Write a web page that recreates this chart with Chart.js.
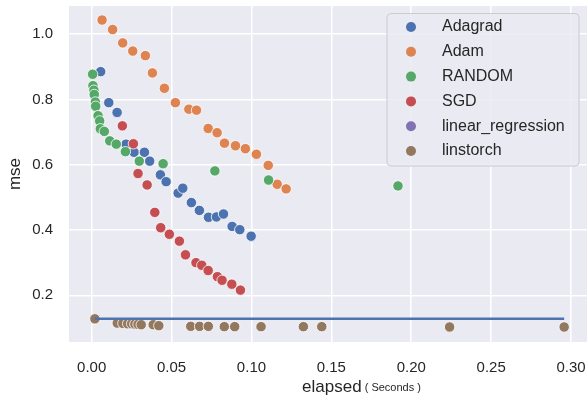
<!DOCTYPE html>
<html lang="en">
<head>
    <meta charset="UTF-8">
    <title>mse vs elapsed</title>
    <script src="https://cdn.jsdelivr.net/npm/chart.js"></script>
    <style>
        html, body { margin: 0; padding: 0; background: #fff; }
        #wrap { width: 588px; height: 400px; }
    </style>
</head>
<body>
    <div id="wrap"><canvas id="mseChart" width="588" height="400"></canvas></div>
    <script>
        // series labels, in legend order
        var seriesNames = ['Adagrad', 'Adam', 'RANDOM', 'SGD', 'linear_regression', 'linstorch'];

        // Adagrad
        var adagradX = [0.0056, 0.0107, 0.0159, 0.0215, 0.0265, 0.033, 0.0363, 0.043, 0.0466, 0.0541, 0.057, 0.0624, 0.0674, 0.0731, 0.0781, 0.0825, 0.0879, 0.0927, 0.0998];
        var adagradY = [0.885, 0.790, 0.760, 0.663, 0.638, 0.638, 0.611, 0.569, 0.548, 0.513, 0.528, 0.484, 0.460, 0.439, 0.440, 0.449, 0.411, 0.401, 0.381];

        // Adam
        var adamX = [0.0065, 0.0131, 0.0194, 0.0257, 0.0336, 0.038, 0.0455, 0.0524, 0.0608, 0.0656, 0.0729, 0.0785, 0.0831, 0.090, 0.0962, 0.1031, 0.1105, 0.1161, 0.1217];
        var adamY = [1.043, 1.014, 0.973, 0.948, 0.934, 0.881, 0.834, 0.790, 0.770, 0.767, 0.711, 0.698, 0.666, 0.658, 0.649, 0.632, 0.598, 0.540, 0.526];

        // RANDOM
        var randomX = [0.0006, 0.0008, 0.0014, 0.0016, 0.0023, 0.0025, 0.004, 0.005, 0.0054, 0.0079, 0.0113, 0.0154, 0.0211, 0.0298, 0.0447, 0.0771, 0.1107, 0.1917];
        var randomY = [0.877, 0.842, 0.828, 0.815, 0.792, 0.779, 0.750, 0.734, 0.710, 0.702, 0.673, 0.663, 0.640, 0.611, 0.603, 0.581, 0.553, 0.535];

        // SGD
        var sgdX = [0.0192, 0.0261, 0.029, 0.0347, 0.0395, 0.0432, 0.0486, 0.0549, 0.0587, 0.0653, 0.0689, 0.0729, 0.0787, 0.0816, 0.0877, 0.0931];
        var sgdY = [0.719, 0.664, 0.573, 0.538, 0.454, 0.407, 0.387, 0.366, 0.324, 0.300, 0.292, 0.276, 0.257, 0.246, 0.234, 0.216];

        // linear_regression (single run, hidden under linstorch)
        var linregX = [0.002];
        var linregY = [0.128];

        // linstorch
        var linstorchX = [0.002, 0.016, 0.0195, 0.0225, 0.025, 0.027, 0.029, 0.031, 0.0385, 0.042, 0.062, 0.0675, 0.073, 0.083, 0.0895, 0.106, 0.1325, 0.144, 0.224, 0.2957];
        var linstorchY = [0.128, 0.115, 0.114, 0.113, 0.113, 0.112, 0.111, 0.110, 0.110, 0.107, 0.105, 0.105, 0.105, 0.104, 0.104, 0.104, 0.104, 0.104, 0.103, 0.103];

        // reference line (linear_regression mse)
        var refLineX = [0.002, 0.2957];
        var refLineY = [0.128, 0.128];

        // ticks
        var xTicks = [0, 0.05, 0.10, 0.15, 0.20, 0.25, 0.30];
        var xTickLabels = ['0.00', '0.05', '0.10', '0.15', '0.20', '0.25', '0.30'];
        var yTicks = [0.2, 0.4, 0.6, 0.8, 1.0];
        var yTickLabels = ['0.2', '0.4', '0.6', '0.8', '1.0'];

        var colors = ['#4C72B0', '#DD8452', '#55A868', '#C44E52', '#8172B3', '#937860'];
        var FONT = "'Liberation Sans', Arial, sans-serif";

        function pts(xs, ys) {
            return xs.map(function (x, i) { return { x: x, y: ys[i] }; });
        }

        var seriesX = [adagradX, adamX, randomX, sgdX, linregX, linstorchX];
        var seriesY = [adagradY, adamY, randomY, sgdY, linregY, linstorchY];

        var datasets = seriesNames.map(function (name, i) {
            return {
                type: 'scatter',
                label: name,
                data: pts(seriesX[i], seriesY[i]),
                backgroundColor: colors[i],
                borderColor: '#ffffff',
                borderWidth: 0.8,
                pointRadius: 5.2,
                pointHoverRadius: 5.2,
                order: 10 - i
            };
        });
        datasets.push({
            type: 'line',
            label: 'ref',
            data: pts(refLineX, refLineY),
            borderColor: '#4C72B0',
            borderWidth: 2.5,
            pointRadius: 0,
            fill: false,
            order: 0
        });

        // grey plot background
        var plotBg = {
            id: 'plotBg',
            beforeDraw: function (chart) {
                var a = chart.chartArea, c = chart.ctx;
                c.save();
                c.fillStyle = '#EAEAF2';
                c.fillRect(a.left, a.top, a.right - a.left, a.bottom - a.top);
                c.restore();
            }
        };

        // legend box inside the plot, upper right
        var innerLegend = {
            id: 'innerLegend',
            afterDraw: function (chart) {
                var c = chart.ctx;
                var x = 387, y = 13.5, w = 192, h = 152.5;
                c.save();
                c.fillStyle = 'rgba(234,234,242,0.85)';
                c.strokeStyle = '#cccccc';
                c.lineWidth = 1;
                c.beginPath();
                c.roundRect(x, y, w, h, 4);
                c.fill();
                c.stroke();
                c.font = '16px ' + FONT;
                c.textBaseline = 'middle';
                seriesNames.forEach(function (name, i) {
                    var cy = 27 + i * 24.8;
                    c.beginPath();
                    c.arc(411, cy, 5, 0, Math.PI * 2);
                    c.fillStyle = colors[i];
                    c.fill();
                    c.fillStyle = '#262626';
                    c.fillText(name, 442, cy);
                });
                c.restore();
            }
        };

        // x title with two font sizes
        var xTitle = {
            id: 'xTitle',
            afterDraw: function (chart) {
                var c = chart.ctx;
                c.save();
                c.fillStyle = '#262626';
                c.textBaseline = 'alphabetic';
                c.font = '17px ' + FONT;
                var t1 = 'elapsed';
                var w1 = c.measureText(t1).width;
                c.font = '11px ' + FONT;
                var t2 = ' ( Seconds )';
                var w2 = c.measureText(t2).width;
                var sx = 361.5 - (w1 + w2) / 2;
                c.font = '17px ' + FONT;
                c.fillText(t1, sx, 392);
                c.font = '11px ' + FONT;
                c.fillText(t2, sx + w1, 391);
                c.restore();
            }
        };

        var ctx = document.getElementById('mseChart').getContext('2d');
        var mseChart = new Chart(ctx, {
            data: { datasets: datasets },
            options: {
                responsive: false,
                animation: false,
                devicePixelRatio: 1,
                layout: { autoPadding: false, padding: { top: 6, right: 1, left: 0, bottom: 0 } },
                plugins: {
                    legend: { display: false },
                    tooltip: { enabled: false }
                },
                scales: {
                    x: {
                        type: 'linear',
                        min: -0.0142,
                        max: 0.310,
                        afterBuildTicks: function (s) { s.ticks = xTicks.map(function (v) { return { value: v }; }); },
                        afterFit: function (s) {
                            s.height = 58;
                            s.paddingLeft = 0;
                            s.paddingRight = 0;
                        },
                        ticks: {
                            callback: function (v) { return xTickLabels[xTicks.indexOf(v)]; },
                            font: { family: FONT, size: 15 },
                            color: '#262626',
                            padding: 17,
                            maxRotation: 0
                        },
                        grid: { color: '#ffffff', lineWidth: 1.5, drawTicks: false },
                        border: { display: false }
                    },
                    y: {
                        type: 'linear',
                        min: 0.057,
                        max: 1.086,
                        afterBuildTicks: function (s) { s.ticks = yTicks.map(function (v) { return { value: v }; }); },
                        afterFit: function (s) {
                            s.width = 69;
                            s.paddingTop = 0;
                            s.paddingBottom = 0;
                        },
                        ticks: {
                            callback: function (v) { return yTickLabels[yTicks.indexOf(v)]; },
                            font: { family: FONT, size: 15 },
                            color: '#262626',
                            padding: 16
                        },
                        title: {
                            display: true,
                            text: 'mse',
                            font: { family: FONT, size: 17 },
                            color: '#262626',
                            padding: { top: 5, bottom: 0 }
                        },
                        grid: { color: '#ffffff', lineWidth: 1.5, drawTicks: false },
                        border: { display: false }
                    }
                }
            },
            plugins: [plotBg, innerLegend, xTitle]
        });
    </script>
</body>
</html>
